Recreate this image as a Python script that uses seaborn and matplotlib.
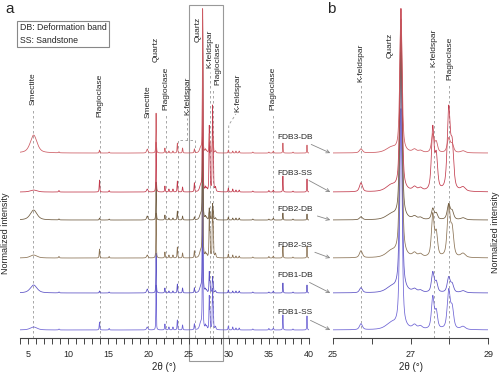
import numpy
import pandas
import matplotlib.pyplot as pyplot
import seaborn
from matplotlib.patches import Rectangle

# style
seaborn.set_style("white")
pyplot.rcParams["font.family"] = ["Liberation Sans", "DejaVu Sans"]
pyplot.rcParams["font.size"] = 6.5

# samples, bottom to top
samples = ["FDB1-SS", "FDB1-DB", "FDB2-SS", "FDB2-DB", "FDB3-SS", "FDB3-DB"]
colors = ["#6c62d4", "#5a50c4", "#8a7254", "#6e5a3e", "#c23a4c", "#cc5a62"]
offsets = [8, 45, 80, 118, 146, 185]
label_y = [25, 63, 93, 129, 165, 201]

# peaks (2theta, half width)
peak_pos = [5.7, 8.85, 13.9, 15.1, 19.85, 20.95, 22.05, 22.55, 23.05, 23.6,
            24.25, 25.72, 26.5, 26.75, 27.1, 27.25, 27.57, 27.66, 27.98, 28.07,
            28.35, 29.95, 30.5, 30.9, 31.3, 33.0, 35.0, 35.55, 36.75, 38.0, 39.75]
peak_width = [0.5, 0.06, 0.045, 0.05, 0.1, 0.035, 0.045, 0.05, 0.05, 0.045,
              0.045, 0.045, 0.16, 0.035, 0.06, 0.06, 0.04, 0.04, 0.045, 0.045,
              0.07, 0.045, 0.045, 0.045, 0.05, 0.06, 0.05, 0.05, 0.035, 0.05, 0.035]

# peak heights per sample
fdb1_ss = [3, 1, 8, 1.5, 3, 45, 6, 3, 3, 10, 5, 6, 6, 220, 4, 3, 32, 17, 38, 20,
           3, 4, 3, 2, 2, 1, 1.5, 2, 15, 1, 14]
fdb1_db = [8, 1, 2, 1, 4, 40, 5, 2, 2, 9, 5, 5, 5, 240, 3, 2, 20, 10, 15, 8,
           2, 3, 2, 2, 2, 1, 1, 2, 10, 1, 8]
fdb2_ss = [3, 1.5, 9, 1.5, 3, 45, 6, 3, 3, 11, 5, 7, 6, 230, 4, 3, 42, 23, 50, 26,
           4, 4, 3, 2, 2, 1, 1.5, 2, 12, 1, 12]
fdb2_db = [10, 1, 2, 1, 4, 38, 5, 2, 2, 9, 4, 3, 5, 200, 3, 2, 11, 6, 15, 8,
           2, 3, 2, 2, 2, 1, 1, 2, 7, 1, 6]
fdb3_ss = [2, 1.5, 12, 1.5, 3, 50, 6, 3, 3, 11, 5, 9, 6, 182, 4, 3, 62, 33, 80, 42,
           4, 4, 3, 2, 2, 1, 1.5, 2, 16, 1, 13]
fdb3_db = [18, 1, 3, 1, 4, 40, 5, 2, 2, 10, 5, 4, 5, 143, 3, 2, 18, 10, 14, 8,
           2, 3, 2, 2, 2, 1, 1, 2, 10, 1, 8]
heights = [fdb1_ss, fdb1_db, fdb2_ss, fdb2_db, fdb3_ss, fdb3_db]

# mineral labels: (name, 2theta of label, label bottom)
labels_a = [("Smectite", 5.62, 233), ("Plagioclase", 13.93, 221),
            ("Smectite", 19.9, 220), ("Quartz", 21.0, 276),
            ("Plagioclase", 22.2, 228), ("K-feldspar", 24.85, 223),
            ("Quartz", 26.2, 296), ("K-feldspar", 27.7, 270),
            ("Plagioclase", 28.7, 253), ("K-feldspar", 31.2, 226),
            ("Plagioclase", 35.55, 228)]
labels_b = [("K-feldspar", 25.72, 256), ("Quartz", 26.47, 280),
            ("K-feldspar", 27.6, 271), ("Plagioclase", 28.0, 258)]
lines_b = [25.72, 27.6, 28.0]


def pattern(x, h):
    y = numpy.zeros_like(x)
    for p, w, a in zip(peak_pos, peak_width, h):
        d = (x - p) / w
        y += a * (0.6 / (1 + d ** 2) + 0.4 * numpy.exp(-numpy.log(2) * d ** 2))
    return y


fig = pyplot.figure(figsize=(5, 3.74), dpi=100)
ax_a = fig.add_axes([0.04, 0.0963, 0.578, 0.89])
ax_b = fig.add_axes([0.666, 0.0963, 0.3106, 0.89])

x_a = numpy.linspace(4, 40, 7200)
x_b = numpy.linspace(25, 29, 1600)
for ax, x in [(ax_a, x_a), (ax_b, x_b)]:
    for name, color, off, h in zip(samples, colors, offsets, heights):
        df = pandas.DataFrame({"2theta": x, "intensity": off + pattern(x, h)})
        seaborn.lineplot(data=df, x="2theta", y="intensity", ax=ax, color=color,
                         lw=0.55, estimator=None, sort=False)
    ax.set_ylim(0, 333)
    ax.set_yticks([])
    ax.set_ylabel("")
    ax.set_xlabel("2θ (°)", fontsize=7, labelpad=2)
    for s in ["left", "right", "top"]:
        ax.spines[s].set_visible(False)
    ax.spines["bottom"].set_color("#444444")
    ax.spines["bottom"].set_linewidth(0.8)
    ax.tick_params(axis="x", which="both", direction="out", length=4, width=0.7,
                   color="#444444", labelsize=6.5, pad=5, bottom=True)

dash = dict(color="#999999", lw=0.6, ls=(0, (3, 3)), zorder=0)

# panel a
ax_a.set_xlim(4, 40)
ax_a.set_xticks(numpy.arange(5, 41, 5))
ax_a.set_xticks(numpy.arange(4, 41, 1), minor=True)
for name, x, yb in labels_a:
    ax_a.text(x, yb, name, rotation=90, ha="center", va="bottom", fontsize=6)
for x, top in [(5.62, 230), (13.93, 218), (19.9, 217), (22.15, 225), (35.55, 225)]:
    ax_a.plot([x, x], [0, top], **dash)
ax_a.plot([23.7, 23.7, 25.85, 25.85], [0, 198, 198, 0], **dash)
ax_a.plot([24.85, 24.85], [198, 220], **dash)
ax_a.plot([27.65, 27.65], [0, 266], **dash)
ax_a.plot([28.05, 28.05], [0, 250], **dash)
ax_a.plot([30.0, 30.0, 30.9], [0, 213, 224], **dash)
ax_a.add_patch(Rectangle((25, -23), 4.24, 356, fill=False, ec="#999999",
                         lw=0.8, clip_on=False, zorder=0))

# panel b
ax_b.set_xlim(25, 29)
ax_b.set_xticks([25, 26, 27, 28, 29])
ax_b.set_xticklabels(["25", "", "27", "", "29"])
for name, x, yb in labels_b:
    ax_b.text(x, yb, name, rotation=90, ha="center", va="bottom", fontsize=6)
for x, top in zip(lines_b, [253, 268, 255]):
    ax_b.plot([x, x], [0, top], **dash)
for name, off, ty in zip(samples, offsets, label_y):
    ax_b.annotate(name, xy=(24.93, off), xytext=(24.48, ty), ha="right",
                  va="center", fontsize=6, annotation_clip=False,
                  arrowprops=dict(arrowstyle="->", color="#888888", lw=0.6,
                                  shrinkA=1, shrinkB=0))

# figure texts
fig.text(0.012, 1 - 233 / 374, "Normalized intensity", rotation=90,
         ha="center", va="center", fontsize=6.5)
fig.text(0.992, 1 - 232 / 374, "Normalized intensity", rotation=90,
         ha="center", va="center", fontsize=6.5)
fig.text(0.01, 0.995, "a", fontsize=11, va="top")
fig.text(0.654, 0.995, "b", fontsize=11, va="top")
fig.text(0.04, 1 - 34 / 374, "DB: Deformation band\nSS: Sandstone",
         fontsize=6.3, va="center", linespacing=1.5,
         bbox=dict(boxstyle="square,pad=0.3", fc="white", ec="#888888", lw=0.8))

pyplot.savefig("out.png", dpi=100)
